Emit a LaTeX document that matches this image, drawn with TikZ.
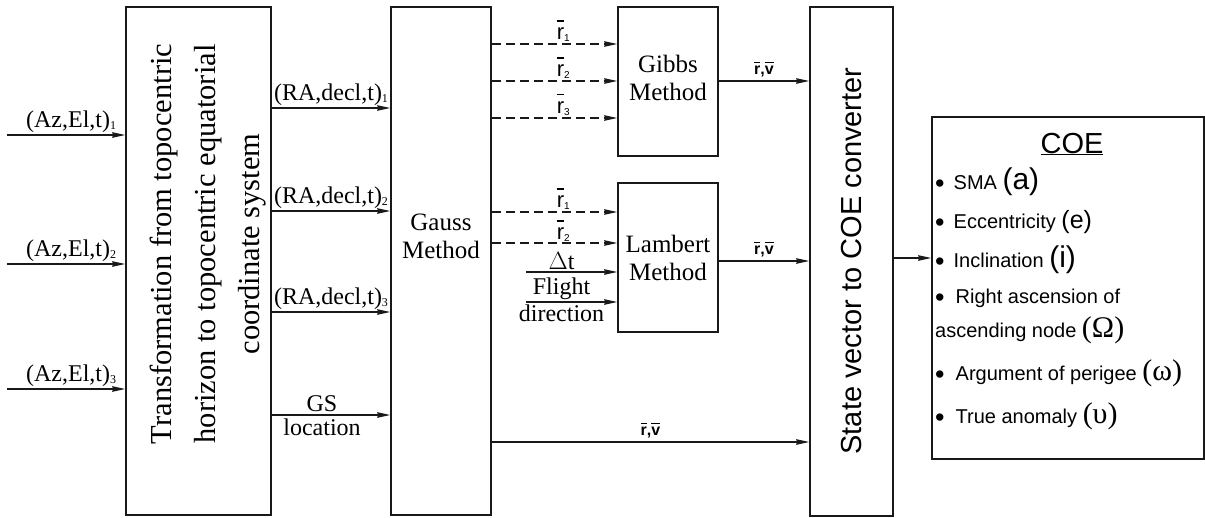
\documentclass[tikz,border=0pt]{standalone}
\usepackage{fontspec}
\setmainfont{Liberation Serif}
\setsansfont{Liberation Sans}
\usetikzlibrary{arrows.meta}
\newcommand\myovl[2][4pt]{\setbox0\hbox{#2}\vbox{\hrule width \wd0 height 1.4pt\kern#1\box0}}
\newcommand\lsub[2][10]{\raisebox{-2pt}{\fontsize{#1}{#1}\selectfont #2}}
\newcommand\rlab[1]{\myovl[6pt]{r}\lsub{#1}}
\newcommand\rvlab{\textbf{\myovl[3pt]{r},\myovl[3pt]{v}}}
\newcommand\mybul{\raisebox{-3.5pt}{\fontsize{27}{19}\selectfont\textbullet}}
\tikzset{
  box/.style={draw=black!90, line width=1.6pt, inner sep=0pt, fill=none},
  arr/.style={draw=black!90, line width=1.3pt, -{Stealth[length=13pt,width=5.5pt,inset=1pt]}},
  darr/.style={arr, dash pattern=on 9pt off 5pt},
  slbl/.style={font=\fontsize{24}{24}\selectfont, inner sep=1.5pt},
  rl/.style={font=\sffamily\fontsize{22}{22}\selectfont, inner sep=2pt},
  rv/.style={font=\sffamily\fontsize{16}{16}\selectfont, inner sep=3pt},
  meth/.style={font=\fontsize{25}{28}\selectfont, align=center, inner sep=0pt},
  item/.style={font=\sffamily\fontsize{20}{20}\selectfont, anchor=base west, inner sep=0pt},
}
\newcommand\mybigp[1]{{\fontsize{30}{30}\selectfont #1}}
\newcommand\mybiggr[1]{{\rmfamily\fontsize{30}{30}\selectfont #1}}
\begin{document}
\begin{tikzpicture}[x=1pt,y=-1pt]
\useasboundingbox[fill=white] (0,0) rectangle (1205,517);
% boxes
\node[box, minimum width=145, minimum height=508] (T) at (198.5,261) {};
\node[box, minimum width=100, minimum height=508] (G) at (441,261) {};
\node[box, minimum width=100, minimum height=149] (Gi) at (668,81.5) {};
\node[box, minimum width=100, minimum height=149] (L) at (668,257.5) {};
\node[box, minimum width=83, minimum height=509] (S) at (851.5,261.5) {};
\node[box, minimum width=272, minimum height=342] (C) at (1068,288) {};
% box texts
\node[rotate=90, align=center, inner sep=0pt, font=\fontsize{30.5}{44}\selectfont] (Tt) at (208,244)
  {Transformation from topocentric\\horizon to topocentric equatorial\\coordinate system};
\node[meth] (Gt) at (441,236) {Gauss\\Method};
\node[meth] (Git) at (668,78) {Gibbs\\Method};
\node[meth] (Lt) at (668,258) {Lambert\\Method};
\node[rotate=90, inner sep=0pt, font=\sffamily\fontsize{29}{29}\selectfont] (St) at (852,261) {State vector to COE converter};
% inputs
\coordinate (i1) at (7,135);
\coordinate (i2) at (7,264);
\coordinate (i3) at (7,389);
\draw[arr] (i1) -- node[slbl, above, xshift=5pt] (l1) {(Az,El,t)\lsub[12]{1}} (i1 -| T.west);
\draw[arr] (i2) -- node[slbl, above, xshift=5pt] (l2) {(Az,El,t)\lsub[12]{2}} (i2 -| T.west);
\draw[arr] (i3) -- node[slbl, above, xshift=5pt] (l3) {(Az,El,t)\lsub[12]{3}} (i3 -| T.west);
% T -> G
\coordinate (y1) at (0,108);
\coordinate (y2) at (0,211);
\coordinate (y3) at (0,312);
\coordinate (y4) at (0,415);
\draw[arr] (T.east |- y1) -- node[slbl, above] (ra1) {(RA,decl,t)\lsub[12]{1}} (G.west |- y1);
\draw[arr] (T.east |- y2) -- node[slbl, above] (ra2) {(RA,decl,t)\lsub[12]{2}} (G.west |- y2);
\draw[arr] (T.east |- y3) -- node[slbl, above] (ra3) {(RA,decl,t)\lsub[12]{3}} (G.west |- y3);
\draw[arr] (T.east |- y4) -- node[slbl, above, xshift=-9pt, inner sep=2.5pt] (gs1) {GS} node[slbl, below, xshift=-9pt, inner sep=3pt] (gs2) {location} (G.west |- y4);
% G -> Gibbs
\coordinate (d1) at (0,44);
\coordinate (d2) at (0,81);
\coordinate (d3) at (0,118);
\draw[darr] (G.east |- d1) -- node[rl, above, pos=0.57] (r1) {\rlab{1}} (Gi.west |- d1);
\draw[darr] (G.east |- d2) -- node[rl, above, pos=0.57] (r2) {\rlab{2}} (Gi.west |- d2);
\draw[darr] (G.east |- d3) -- node[rl, above, pos=0.57] (r3) {\rlab{3}} (Gi.west |- d3);
% G -> Lambert
\coordinate (e1) at (0,212);
\coordinate (e2) at (0,243);
\draw[darr] (G.east |- e1) -- node[rl, above, pos=0.57] (lr1) {\rlab{1}} (L.west |- e1);
\draw[darr] (G.east |- e2) -- node[rl, above, pos=0.57, inner sep=1pt] (lr2) {\rlab{2}} (L.west |- e2);
\coordinate (dt) at (526,272);
\coordinate (fd) at (526,302);
\draw[arr] (dt) -- node[slbl, above, pos=0.39] (dtl) {$\Delta$t} (dt -| L.west);
\draw[arr] (fd) -- node[slbl, above, pos=0.39, inner sep=1.5pt] (fl1) {Flight} node[slbl, below, pos=0.39, inner sep=2pt] (fl2) {direction} (fd -| L.west);
% outputs
\coordinate (o1) at (0,81);
\coordinate (o2) at (0,261);
\coordinate (o3) at (0,442);
\coordinate (o4) at (0,258);
\draw[arr] (Gi.east |- o1) -- node[rv, above] (rv1) {\rvlab} (S.west |- o1);
\draw[arr] (L.east |- o2) -- node[rv, above] (rv2) {\rvlab} (S.west |- o2);
\draw[arr] (G.east |- o3) -- node[rv, above] (rv3) {\rvlab} (S.west |- o3);
\draw[arr] (S.east |- o4) -- (C.west |- o4);
% COE contents
\node[font=\sffamily\fontsize{29}{29}\selectfont, anchor=base, inner sep=0pt] (ct) at (1072,153) {\underline{COE}};
\node[item] (c1) at (935,189) {\mybul\hspace{9pt}SMA \mybigp{(a)}};
\node[item] (c2) at (935,228) {\mybul\hspace{9pt}Eccentricity {\fontsize{25}{25}\selectfont (e)}};
\node[item] (c3) at (935,267) {\mybul\hspace{9pt}Inclination \mybigp{(i)}};
\node[item] (c4) at (935,303) {\mybul\hspace{11pt}Right ascension of};
\node[item] (c5) at (935,337) {ascending node \mybiggr{(Ω)}};
\node[item] (c6) at (935,380) {\mybul\hspace{11pt}Argument of perigee \mybiggr{(ω)}};
\node[item] (c7) at (935,423) {\mybul\hspace{11pt}True anomaly \mybiggr{(υ)}};
\end{tikzpicture}
\end{document}
